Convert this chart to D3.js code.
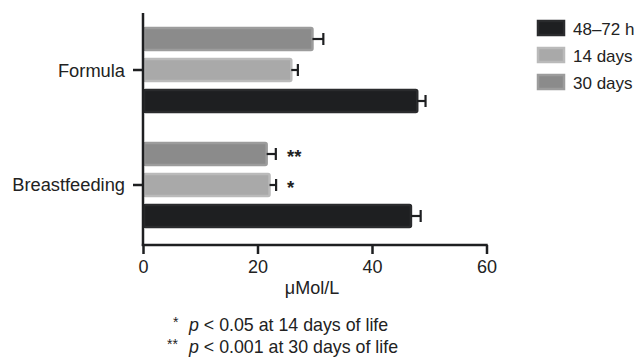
<!DOCTYPE html>
<html><head><meta charset="utf-8">
<script src="https://cdn.jsdelivr.net/npm/d3@7"></script>
<style>body{margin:0;background:#fff;} svg{display:block;font-family:"Liberation Sans",Arial,sans-serif;}</style>
</head><body>
<svg id="c" width="642" height="357"></svg>
<script>
const groups = ["Formula", "Breastfeeding"];
const series = ["30 days", "14 days", "48–72 h"];
const legendOrder = ["48–72 h", "14 days", "30 days"];
const values30 = [29.6, 21.6];
const errors30 = [1.9, 1.6];
const values14 = [25.9, 22.1];
const errors14 = [1.15, 1.15];
const values48 = [47.9, 46.8];
const errors48 = [1.45, 1.7];
const significance = [["", ""], ["**", "*"]]; // per group: [30 days, 14 days]
const xTicks = [0, 20, 40, 60];
const xTitle = "\u03bcMol/L";
const footnotes = ["p < 0.05 at 14 days of life", "p < 0.001 at 30 days of life"];
const footMarks = ["*", "**"];

const fills = {"48–72 h": "#1e1f21", "14 days": "#a9a9a9", "30 days": "#8b8b8b"};
const borders = {"48–72 h": "#2a2b2d", "14 days": "#bababa", "30 days": "#9c9c9c"};

const data = [];
groups.forEach((g, i) => {
  data.push({g, s: "30 days", v: values30[i], e: errors30[i], sig: significance[i][0]});
  data.push({g, s: "14 days", v: values14[i], e: errors14[i], sig: significance[i][1]});
  data.push({g, s: "48–72 h", v: values48[i], e: errors48[i], sig: ""});
});

const svg = d3.select("#c");
const x = d3.scaleLinear().domain([0, 60]).range([143, 486.5]);
const y0 = d3.scaleBand().domain(groups).range([12.5, 242.5]).paddingInner(0.1913).paddingOuter(0.0957);
const y1 = d3.scaleBand().domain(series).range([0, y0.bandwidth()]).paddingInner(0.226).paddingOuter(0.113);

// bars
const bars = svg.append("g");
bars.selectAll("rect").data(data).join("rect")
  .attr("x", x(0) + 1)
  .attr("y", d => y0(d.g) + y1(d.s) + 1)
  .attr("width", d => x(d.v) - x(0) - 1)
  .attr("height", y1.bandwidth() - 2)
  .attr("rx", 1.5)
  .attr("fill", d => fills[d.s])
  .attr("stroke", d => borders[d.s])
  .attr("stroke-width", 2.5);

// error bars
const eb = svg.append("g").attr("stroke", "#1e1f21").attr("stroke-width", 2.2);
eb.selectAll("line.h").data(data).join("line").attr("class", "h")
  .attr("x1", d => x(d.v)).attr("x2", d => x(d.v + d.e))
  .attr("y1", d => y0(d.g) + y1(d.s) + y1.bandwidth() / 2)
  .attr("y2", d => y0(d.g) + y1(d.s) + y1.bandwidth() / 2);
eb.selectAll("line.c").data(data).join("line").attr("class", "c")
  .attr("x1", d => x(d.v + d.e)).attr("x2", d => x(d.v + d.e))
  .attr("y1", d => y0(d.g) + y1(d.s) + y1.bandwidth() / 2 - 6)
  .attr("y2", d => y0(d.g) + y1(d.s) + y1.bandwidth() / 2 + 6);

// significance
svg.append("g").selectAll("text").data(data.filter(d => d.sig)).join("text")
  .attr("x", 287).attr("y", d => y0(d.g) + y1(d.s) + y1.bandwidth() / 2 + 9)
  .attr("font-size", 18.5).attr("font-weight", "bold").attr("fill", "#222")
  .text(d => d.sig);

// y axis
const yAxis = svg.append("g").attr("transform", `translate(${x(0)},0)`);
yAxis.append("line").attr("x1", 0).attr("x2", 0).attr("y1", 13).attr("y2", 246)
  .attr("stroke", "#1e1f21").attr("stroke-width", 2.5);
yAxis.selectAll("line.t").data(groups).join("line").attr("class", "t")
  .attr("x1", -10).attr("x2", 0)
  .attr("y1", g => y0(g) + y1("14 days") + y1.bandwidth() / 2)
  .attr("y2", g => y0(g) + y1("14 days") + y1.bandwidth() / 2)
  .attr("stroke", "#1e1f21").attr("stroke-width", 2.5);
yAxis.selectAll("text").data(groups).join("text")
  .attr("x", -18).attr("y", g => y0(g) + y1("14 days") + y1.bandwidth() / 2 + 6.5)
  .attr("text-anchor", "end").attr("font-size", 18.3).attr("fill", "#222").text(g => g);

// x axis
const xAxis = svg.append("g").attr("transform", "translate(0,245)")
  .call(d3.axisBottom(x).tickValues(xTicks).tickSize(9).tickPadding(6).tickSizeOuter(0));
xAxis.select(".domain").attr("stroke", "#1e1f21").attr("stroke-width", 2.5).attr("d", `M${x(0) - 1.2},0H${x(60) + 1.2}`);
xAxis.selectAll(".tick line").attr("stroke", "#1e1f21").attr("stroke-width", 2.5);
xAxis.selectAll(".tick text").attr("font-size", 18).attr("fill", "#222")
  .attr("font-family", "'Liberation Sans',Arial,sans-serif");
xAxis.selectAll(".tick line").attr("y2", 9);

svg.append("text").attr("x", 312).attr("y", 294).attr("text-anchor", "middle")
  .attr("font-size", 18).attr("fill", "#222").text(xTitle);

// footnotes
const fn = svg.append("g");
footnotes.forEach((t, i) => {
  const ty = 330.5 + i * 22.7;
  const tx = fn.append("text").attr("y", ty).attr("font-size", 17.8).attr("fill", "#222");
  tx.append("tspan").attr("x", i === 0 ? 173 : 167).attr("dy", -4).attr("font-size", 14).text(footMarks[i]);
  tx.append("tspan").attr("x", 189).attr("dy", 4).attr("font-style", "italic").text("p");
  tx.append("tspan").text(t.slice(1));
});

// legend
const lg = svg.append("g");
legendOrder.forEach((s, i) => {
  const ly = 20 + i * 27;
  lg.append("rect").attr("x", 538).attr("y", ly + 1).attr("width", 26).attr("height", 14)
    .attr("fill", fills[s]).attr("stroke", borders[s]).attr("stroke-width", 2.5);
  lg.append("text").attr("x", 573).attr("y", ly + 14.5).attr("font-size", 17).attr("fill", "#222").text(s);
});
</script>
</body></html>
